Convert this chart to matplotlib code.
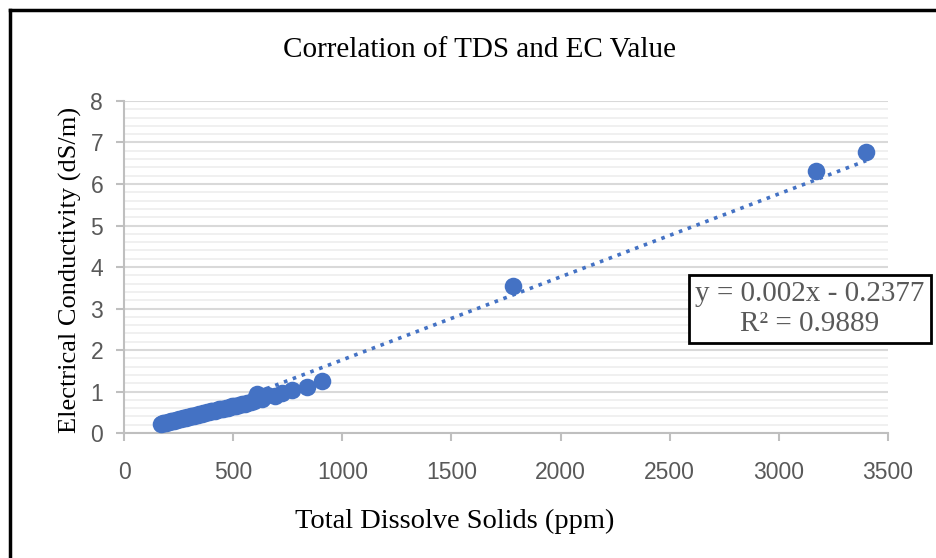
import numpy as np
import matplotlib.pyplot as plt
from matplotlib.lines import Line2D
from matplotlib.ticker import MultipleLocator

# valores (TDS en ppm, EC en dS/m)
tds = [170, 178, 185, 192, 200, 208, 215, 222, 230, 238, 245, 252, 260, 268,
       275, 283, 290, 298, 305, 313, 320, 330, 338, 345, 355, 362, 370, 380,
       390, 398, 405, 415, 425, 435, 445, 455, 465, 475, 485, 495, 505, 515,
       528, 540, 552, 565, 580, 595, 610, 630, 655, 690, 724, 770, 838, 905,
       1780, 3170, 3400]
ec = [0.22, 0.23, 0.24, 0.25, 0.26, 0.27, 0.28, 0.29, 0.30, 0.31, 0.32, 0.33,
      0.34, 0.35, 0.36, 0.37, 0.38, 0.39, 0.40, 0.41, 0.42, 0.43, 0.44, 0.45,
      0.47, 0.48, 0.49, 0.50, 0.51, 0.52, 0.53, 0.54, 0.55, 0.57, 0.58, 0.59,
      0.60, 0.61, 0.63, 0.64, 0.65, 0.66, 0.68, 0.69, 0.71, 0.72, 0.74, 0.76,
      0.95, 0.82, 0.92, 0.90, 0.97, 1.03, 1.12, 1.26, 3.55, 6.31, 6.78]

pendiente = 0.002
intercepto = -0.2377
r2 = 0.9889

azul = '#4472C4'
gris = '#595959'

fig = plt.figure(figsize=(9.36, 5.58), dpi=100)
ax = fig.add_axes([0.1325, 0.224, 0.8162, 0.595])

ax.scatter(tds, ec, s=160, color=azul, zorder=3, linewidths=0)

# linea de tendencia
xt = np.array([min(tds), max(tds)])
ax.plot(xt, pendiente * xt + intercepto, linestyle=(0, (1, 1.6)), color=azul,
        linewidth=2.6, zorder=2)

ax.set_xlim(0, 3500)
ax.set_ylim(0, 8)
ax.xaxis.set_major_locator(MultipleLocator(500))
ax.yaxis.set_major_locator(MultipleLocator(1))
ax.yaxis.set_minor_locator(MultipleLocator(0.2))

ax.grid(which='major', axis='y', color='#D9D9D9', linewidth=1.5, zorder=0)
ax.grid(which='minor', axis='y', color='#EDEDED', linewidth=1.2, zorder=0)
ax.set_axisbelow(True)

for s in ['top', 'right']:
    ax.spines[s].set_visible(False)
for s in ['left', 'bottom']:
    ax.spines[s].set_color('#BFBFBF')
    ax.spines[s].set_linewidth(1.5)

ax.tick_params(which='major', length=6, width=1.5, color='#BFBFBF',
               labelcolor=gris, labelsize=16.5)
ax.tick_params(axis='x', pad=14)
ax.tick_params(axis='y', pad=9)
ax.tick_params(which='minor', length=0)
for lbl in ax.get_xticklabels() + ax.get_yticklabels():
    lbl.set_family('Liberation Sans')

fig.text(455 / 936, 1 - 521 / 558, 'Total Dissolve Solids (ppm)',
         family='Liberation Serif', fontsize=20.5, ha='center', va='center')
fig.text(70 / 936, 1 - 270 / 558, 'Electrical Conductivity (dS/m)',
         family='Liberation Serif', fontsize=19, ha='center', va='center',
         rotation=90)

fig.text(480 / 936, 1 - 50 / 558, 'Correlation of TDS and EC Value',
         family='Liberation Serif', fontsize=21, ha='center', va='center')

# recuadro de la ecuacion
fig.text(810 / 936, 1 - 309 / 558,
         'y = 0.002x - 0.2377\nR² = 0.9889',
         family='Liberation Serif', fontsize=21, color=gris, ha='center',
         va='center', linespacing=1.2,
         bbox=dict(boxstyle='square,pad=0.2', facecolor='white',
                   edgecolor='black', linewidth=2))

# borde exterior
fig.add_artist(Line2D([10 / 936, 1], [1 - 10 / 558, 1 - 10 / 558],
                      color='black', linewidth=2.5))
fig.add_artist(Line2D([10 / 936, 10 / 936], [0, 1 - 10 / 558],
                      color='black', linewidth=2.5))

fig.savefig('out.png', dpi=100)
